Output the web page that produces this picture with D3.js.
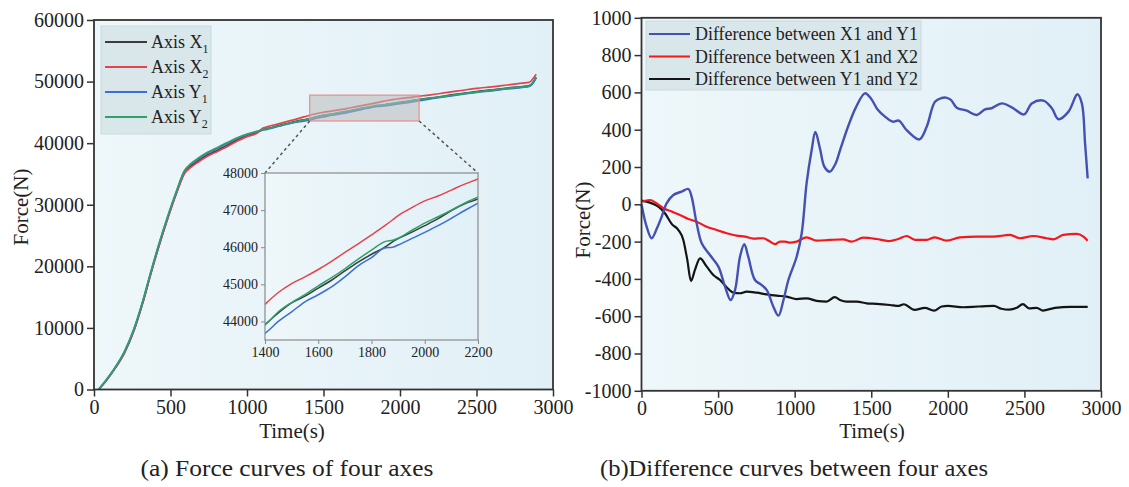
<!DOCTYPE html>
<html>
<head>
<meta charset="utf-8">
<script src="https://cdn.jsdelivr.net/npm/d3@7"></script>
<style>
  body { margin: 0; background: #fff; }
  text { font-family: "Liberation Serif", "Times New Roman", serif; fill: #222; }
</style>
</head>
<body>
<svg id="chart" width="1129" height="487"></svg>
<script>
// ---- (a) force of the four axes, shared time grid (s) ----
const forceTime = [30, 70, 130, 200, 260, 320, 370, 430, 480, 540, 590, 635, 680, 745, 810, 875, 940, 1005, 1070, 1100,
  1130, 1200, 1290, 1350, 1400, 1450, 1500, 1550, 1600, 1650, 1700, 1750, 1800, 1850, 1880, 1900, 1950, 2000, 2050, 2100,
  2150, 2200, 2300, 2400, 2500, 2600, 2700, 2800, 2845, 2870, 2890];
const axisX1 = [0, 1150, 3150, 6000, 9500, 14200, 18700, 23800, 27700, 32000, 35200, 36300, 37100, 38100, 38900, 39700, 40600, 41300, 41800, 42200,
  42350, 42800, 43350, 43700, 43920, 44230, 44500, 44680, 44900, 45110, 45360, 45600, 45810, 46000, 46150, 46230, 46400, 46580, 46770, 46990,
  47170, 47300, 47700, 48050, 48380, 48650, 48950, 49200, 49350, 49900, 50700];
const axisX2 = [0, 1150, 3150, 6000, 9500, 14150, 18650, 23700, 27600, 31900, 35000, 36100, 36900, 37900, 38700, 39500, 40400, 41100, 41700, 42400,
  42650, 43100, 43700, 44100, 44460, 44780, 45020, 45200, 45400, 45620, 45860, 46090, 46330, 46580, 46740, 46850, 47060, 47250, 47380, 47540,
  47700, 47840, 48200, 48550, 48900, 49150, 49450, 49750, 49900, 50500, 51200];
const axisY1 = [0, 1200, 3250, 6150, 9700, 14400, 18900, 24000, 27900, 32200, 35400, 36600, 37400, 38400, 39200, 40000, 40800, 41400, 41900, 42100,
  42250, 42700, 43250, 43500, 43680, 44000, 44260, 44530, 44720, 44930, 45200, 45500, 45720, 45980, 46000, 46060, 46230, 46400, 46580, 46780,
  46990, 47190, 47550, 47900, 48250, 48500, 48800, 49050, 49200, 49750, 50600];
const axisY2 = [0, 1250, 3300, 6250, 9800, 14500, 19000, 24100, 28000, 32300, 35500, 36700, 37550, 38550, 39350, 40150, 40900, 41500, 41950, 42150,
  42300, 42750, 43300, 43650, 43900, 44260, 44510, 44720, 44960, 45180, 45420, 45680, 45920, 46150, 46190, 46240, 46450, 46650, 46820, 47000,
  47190, 47350, 47650, 48000, 48300, 48600, 48900, 49150, 49300, 49850, 50650];

// zoomed window marked on the main plot, and the inset range
const zoomTime = [1410, 2125];
const zoomForce = [43600, 47800];
const insetTime = [1400, 2200];
const insetForce = [43500, 48000];

// ---- (b) differences between axes ----
const diffX1Y1Time = [0, 30, 66, 100, 132, 164, 208, 262, 306, 327, 360, 393, 447, 502, 545, 582, 611, 643, 671, 697,
  741, 785, 817, 861, 894, 927, 959, 1013, 1046, 1078, 1111, 1135, 1165, 1195, 1230, 1265, 1300, 1350, 1400, 1459,
  1500, 1540, 1590, 1640, 1680, 1731, 1814, 1862, 1916, 1960, 1988, 2020, 2058, 2124, 2189, 2243, 2286, 2352, 2417, 2498,
  2548, 2624, 2679, 2722, 2788, 2846, 2875, 2896, 2913];
const diffX1Y1 = [0, -110, -182, -130, -66, 5, 50, 68, 82, 41, -102, -209, -272, -334, -441, -513, -459, -281, -214, -281,
  -406, -433, -459, -549, -597, -513, -406, -281, -155, 113, 291, 388, 300, 200, 175, 215, 300, 420, 520, 595,
  565, 510, 470, 443, 449, 398, 348, 416, 550, 570, 572, 560, 518, 502, 479, 509, 515, 541, 520, 482,
  541, 556, 515, 456, 497, 590, 541, 327, 139];

const diffX1X2Time = [0, 55, 99, 143, 197, 251, 306, 360, 414, 491, 556, 621, 676, 730, 795, 839, 872, 904, 937, 970,
  1013, 1078, 1143, 1230, 1317, 1372, 1448, 1535, 1612, 1680, 1731, 1786, 1862, 1916, 1992, 2079, 2189, 2297, 2406, 2471,
  2558, 2645, 2689, 2754, 2841, 2885, 2913];
const diffX1X2 = [14, 23, 5, -21, -39, -57, -79, -93, -116, -138, -155, -168, -173, -184, -182, -200, -214, -200, -200, -206,
  -200, -177, -195, -191, -188, -200, -179, -186, -197, -185, -170, -191, -191, -177, -195, -177, -173, -173, -164, -182,
  -170, -182, -188, -164, -159, -173, -195];

const diffY1Y2Time = [0, 55, 110, 153, 197, 241, 273, 299, 323, 349, 382, 426, 469, 513, 556, 600, 643, 687, 752, 817,
  883, 948, 1013, 1078, 1143, 1208, 1262, 1300, 1339, 1405, 1470, 1535, 1622, 1680, 1713, 1783, 1850, 1910, 1960, 2000,
  2100, 2200, 2300, 2350, 2400, 2450, 2490, 2530, 2580, 2620, 2700, 2800, 2913];
const diffY1Y2 = [20, 9, -13, -48, -105, -138, -191, -298, -411, -352, -290, -334, -379, -406, -445, -474, -477, -468, -474, -483,
  -490, -495, -508, -504, -518, -522, -498, -515, -522, -522, -531, -534, -540, -545, -536, -566, -555, -570, -548, -545,
  -552, -548, -545, -560, -565, -555, -535, -558, -555, -570, -555, -550, -550];

const svg = d3.select("#chart");

// background gradient of the plot areas
const defs = svg.append("defs");
const grad = defs.append("linearGradient").attr("id", "bg").attr("x1", 0).attr("x2", 1).attr("y1", 0).attr("y2", 0);
grad.append("stop").attr("offset", 0).attr("stop-color", "#eef7fa");
grad.append("stop").attr("offset", 1).attr("stop-color", "#e1f0f7");

const xL = d3.scaleLinear().domain([0, 3000]).range([94, 553]);
const yL = d3.scaleLinear().domain([0, 60000]).range([389.5, 20]);
const xR = d3.scaleLinear().domain([0, 3000]).range([641.5, 1101]);
const yR = d3.scaleLinear().domain([-1000, 1000]).range([390.8, 17.8]);
const xI = d3.scaleLinear().domain(insetTime).range([265, 478]);
const yI = d3.scaleLinear().domain(insetForce).range([340, 173]);

function panelBg(x, y) {
  svg.append("rect")
      .attr("x", x.range()[0]).attr("y", y.range()[1])
      .attr("width", x.range()[1] - x.range()[0])
      .attr("height", y.range()[0] - y.range()[1])
      .attr("fill", "url(#bg)");
}

function axes(x, y, xMajor, xMinor, yMajor, yMinor, fs, col) {
  const bottom = y.range()[0], left = x.range()[0];
  const big = fs > 15;
  const gx = svg.append("g").attr("transform", "translate(0," + bottom + ")");
  gx.call(d3.axisBottom(x).tickValues(xMinor).tickSize(big ? 4 : 3).tickFormat(""));
  gx.call(d3.axisBottom(x).tickValues(xMajor).tickSize(big ? 7 : 4).tickPadding(3).tickFormat(d => String(d)));
  const gy = svg.append("g").attr("transform", "translate(" + left + ",0)");
  gy.call(d3.axisLeft(y).tickValues(yMinor).tickSize(big ? 4 : 3).tickFormat(""));
  gy.call(d3.axisLeft(y).tickValues(yMajor).tickSize(big ? 7 : 4).tickPadding(3).tickFormat(d => String(d)));
  [gx, gy].forEach(g => {
    g.selectAll(".domain").remove();
    g.selectAll("line").attr("stroke", col).attr("stroke-width", big ? 1.5 : 1);
    g.selectAll("text").attr("font-size", fs).attr("font-family", "Liberation Serif, serif").attr("fill", "#222");
  });
  svg.append("rect")
      .attr("x", left).attr("y", y.range()[1])
      .attr("width", x.range()[1] - left).attr("height", bottom - y.range()[1])
      .attr("fill", "none").attr("stroke", col).attr("stroke-width", big ? 1.8 : 1.2);
}

// ---------------- panel (a) ----------------
panelBg(xL, yL);

const forceSeries = [
  {label: "X", sub: "1", values: axisX1, color: "#3c3c3c"},
  {label: "X", sub: "2", values: axisX2, color: "#e5434c"},
  {label: "Y", sub: "1", values: axisY1, color: "#3a6fd3"},
  {label: "Y", sub: "2", values: axisY2, color: "#2fa06c"}
];

const lineL = d3.line()
    .x((d, i) => xL(forceTime[i]))
    .y(d => yL(d))
    .curve(d3.curveMonotoneX);

forceSeries.forEach(s => {
  svg.append("path").attr("d", lineL(s.values))
      .attr("fill", "none").attr("stroke", s.color).attr("stroke-width", 1.7);
});

// zoom window and connectors
svg.append("rect")
    .attr("x", xL(zoomTime[0])).attr("y", yL(zoomForce[1]))
    .attr("width", xL(zoomTime[1]) - xL(zoomTime[0]))
    .attr("height", yL(zoomForce[0]) - yL(zoomForce[1]))
    .attr("fill", "#b9b9b9").attr("fill-opacity", 0.55)
    .attr("stroke", "#ee8a8a").attr("stroke-width", 1.2);

svg.append("line")
    .attr("x1", xL(zoomTime[0])).attr("y1", yL(zoomForce[0]))
    .attr("x2", xI(insetTime[0])).attr("y2", yI(insetForce[1]))
    .attr("stroke", "#555").attr("stroke-width", 1.5).attr("stroke-dasharray", "3,3");
svg.append("line")
    .attr("x1", xL(zoomTime[1])).attr("y1", yL(zoomForce[0]))
    .attr("x2", xI(insetTime[1])).attr("y2", yI(insetForce[1]))
    .attr("stroke", "#555").attr("stroke-width", 1.5).attr("stroke-dasharray", "3,3");

axes(xL, yL, d3.range(0, 3001, 500), d3.range(250, 3000, 500),
    d3.range(0, 60001, 10000), d3.range(5000, 60000, 10000), 20, "#333");

// inset
panelBg(xI, yI);
defs.append("clipPath").attr("id", "insetClip").append("rect")
    .attr("x", xI.range()[0]).attr("y", yI.range()[1])
    .attr("width", xI.range()[1] - xI.range()[0]).attr("height", yI.range()[0] - yI.range()[1]);

const lineI = d3.line()
    .defined((d, i) => forceTime[i] >= insetTime[0] - 100 && forceTime[i] <= insetTime[1] + 100)
    .x((d, i) => xI(forceTime[i]))
    .y(d => yI(d))
    .curve(d3.curveMonotoneX);

const inset = svg.append("g").attr("clip-path", "url(#insetClip)");
forceSeries.forEach(s => {
  inset.append("path").attr("d", lineI(s.values))
      .attr("fill", "none").attr("stroke", s.color).attr("stroke-width", 1.5);
});

axes(xI, yI, d3.range(1400, 2201, 200), d3.range(1500, 2200, 200),
    d3.range(44000, 48001, 1000), d3.range(44500, 48000, 1000), 14, "#8a8a8a");

// legend (a)
const legA = svg.append("g");
legA.append("rect").attr("x", 101).attr("y", 26).attr("width", 110).attr("height", 108)
    .attr("fill", "#d9e7eb").attr("stroke", "#c9d9de");
forceSeries.forEach((s, i) => {
  const y = 42 + i * 25;
  legA.append("line").attr("x1", 105).attr("x2", 147).attr("y1", y).attr("y2", y)
      .attr("stroke", s.color).attr("stroke-width", 2);
  const t = legA.append("text").attr("x", 151).attr("y", y + 6).attr("font-size", 18);
  t.append("tspan").text("Axis " + s.label);
  t.append("tspan").attr("dy", 5).attr("font-size", 12).text(s.sub);
});

svg.append("text").attr("transform", "translate(28,207) rotate(-90)")
    .attr("text-anchor", "middle").attr("font-size", 21).text("Force(N)");
svg.append("text").attr("x", 292).attr("y", 438)
    .attr("text-anchor", "middle").attr("font-size", 21).text("Time(s)");
svg.append("text").attr("x", 287).attr("y", 476)
    .attr("text-anchor", "middle").attr("font-size", 24)
    .attr("textLength", 293).attr("lengthAdjust", "spacingAndGlyphs")
    .text("(a) Force curves of four axes");

// ---------------- panel (b) ----------------
panelBg(xR, yR);

const diffSeries = [
  {label: "Difference between X1 and Y1", t: diffX1Y1Time, v: diffX1Y1, color: "#4451b2", width: 2.4, curve: d3.curveCatmullRom},
  {label: "Difference between X1 and X2", t: diffX1X2Time, v: diffX1X2, color: "#f2181b", width: 2.2, curve: d3.curveMonotoneX},
  {label: "Difference between Y1 and Y2", t: diffY1Y2Time, v: diffY1Y2, color: "#141414", width: 2.2, curve: d3.curveMonotoneX}
];

const plotR = svg.append("g");
diffSeries.slice().reverse().forEach(s => {
  const line = d3.line().x((d, i) => xR(s.t[i])).y(d => yR(d)).curve(s.curve);
  plotR.append("path").attr("d", line(s.v))
      .attr("fill", "none").attr("stroke", s.color).attr("stroke-width", s.width)
      .attr("stroke-linejoin", "round");
});

axes(xR, yR, d3.range(0, 3001, 500), d3.range(250, 3000, 500),
    d3.range(-1000, 1001, 200), d3.range(-900, 1000, 200), 20, "#333");

const legB = svg.append("g");
legB.append("rect").attr("x", 646).attr("y", 21).attr("width", 275).attr("height", 69)
    .attr("fill", "#d9e7eb").attr("stroke", "#c9d9de");
diffSeries.forEach((s, i) => {
  const y = 34 + i * 22.5;
  legB.append("line").attr("x1", 649).attr("x2", 690).attr("y1", y).attr("y2", y)
      .attr("stroke", s.color).attr("stroke-width", 2.2);
  legB.append("text").attr("x", 695).attr("y", y + 6).attr("font-size", 18)
      .attr("textLength", 223).attr("lengthAdjust", "spacingAndGlyphs").text(s.label);
});

svg.append("text").attr("transform", "translate(590,220) rotate(-90)")
    .attr("text-anchor", "middle").attr("font-size", 21).text("Force(N)");
svg.append("text").attr("x", 872).attr("y", 438)
    .attr("text-anchor", "middle").attr("font-size", 21).text("Time(s)");
svg.append("text").attr("x", 794).attr("y", 476)
    .attr("text-anchor", "middle").attr("font-size", 24)
    .attr("textLength", 388).attr("lengthAdjust", "spacingAndGlyphs")
    .text("(b)Difference curves between four axes");
</script>
</body>
</html>
